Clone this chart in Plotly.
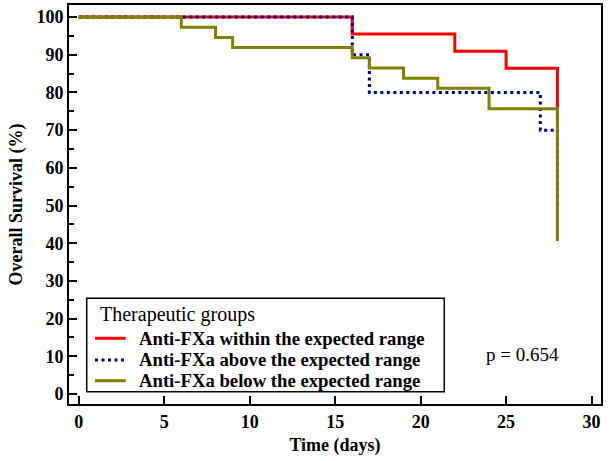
import plotly.graph_objects as go

# Kaplan-Meier step data (time in days, survival %)
within_t = [0, 16, 22, 25, 28]
within_s = [100, 95.5, 90.9, 86.4, 72.7]

above_t = [0, 16, 17, 27, 28]
above_s = [100, 90.0, 80.0, 70.0, 50.0]

below_t = [0, 6, 8, 9, 16, 17, 19, 21, 24, 28]
below_s = [100, 97.3, 94.6, 91.9, 89.2, 86.5, 83.8, 81.1, 75.7, 40.6]

x_ticks = [0, 5, 10, 15, 20, 25, 30]
y_ticks = [0, 10, 20, 30, 40, 50, 60, 70, 80, 90, 100]

series_names = ["Anti-FXa within the expected range",
                "Anti-FXa above the expected range",
                "Anti-FXa below the expected range"]
series_colors = ["#ff0000", "#00008b", "#808000"]
series_dash = ["solid", "3px,3.5px", "solid"]
legend_title = "Therapeutic groups"
p_text = "p = 0.654"

FONT = "Liberation Serif, Times New Roman, serif"

fig = go.Figure()
for t, s, name, col, dash in zip([within_t, above_t, below_t],
                                 [within_s, above_s, below_s],
                                 series_names, series_colors, series_dash):
    fig.add_trace(go.Scatter(x=t, y=s, mode="lines", line_shape="hv",
                             line=dict(color=col, width=3, dash=dash),
                             name=name, showlegend=False))

# custom legend box (paper coordinates)
fig.add_shape(type="rect", xref="paper", yref="paper",
              x0=0.0333, x1=0.7054, y0=0.0308, y1=0.2649,
              line=dict(color="black", width=1.5), fillcolor="white", layer="above")
fig.add_annotation(xref="paper", yref="paper", x=0.054, y=0.2231,
                   xanchor="left", yanchor="middle", showarrow=False,
                   text=legend_title, font=dict(family=FONT, size=20, color="black"))
entry_y = [0.1647, 0.1103, 0.0584]
for ey, name, col, dash in zip(entry_y, series_names, series_colors, series_dash):
    fig.add_shape(type="line", xref="paper", yref="paper",
                  x0=0.0489, x1=0.1066, y0=ey, y1=ey,
                  line=dict(color=col, width=3, dash=dash), layer="above")
    fig.add_annotation(xref="paper", yref="paper", x=0.1280, y=ey,
                       xanchor="left", yanchor="middle", showarrow=False,
                       text="<b>" + name + "</b>",
                       font=dict(family=FONT, size=18.7, color="black"))

fig.add_annotation(x=25.94, y=10.5, text=p_text, showarrow=False,
                   font=dict(family=FONT, size=19, color="black"))

fig.update_layout(
    width=609, height=461,
    margin=dict(l=69, r=8, t=5, b=57, autoexpand=False),
    paper_bgcolor="white", plot_bgcolor="white",
    font=dict(family=FONT, color="black"),
    showlegend=False,
    xaxis=dict(
        range=[-0.57, 30.55], tickvals=x_ticks, ticktext=[str(v) for v in x_ticks],
        showgrid=False, zeroline=False, automargin=False,
        showline=True, linecolor="black", linewidth=2, mirror=True,
        ticks="inside", ticklen=8, tickwidth=2, tickcolor="black",
        tickfont=dict(family=FONT, size=18, color="black", weight="bold"),
        title=dict(text="<b>Time (days)</b>", font=dict(family=FONT, size=18), standoff=8),
    ),
    yaxis=dict(
        range=[-2.65, 103.2], tickvals=y_ticks, ticktext=[str(v) for v in y_ticks],
        showgrid=False, zeroline=False, automargin=False,
        showline=True, linecolor="black", linewidth=2, mirror=True,
        ticks="inside", ticklen=8, tickwidth=2, tickcolor="black",
        minor=dict(tickvals=[5, 15, 25, 35, 45, 55, 65, 75, 85, 95], ticks="inside",
                   ticklen=5, tickwidth=1.5, tickcolor="black"),
        tickfont=dict(family=FONT, size=18, color="black", weight="bold"),
        title=dict(text="<b>Overall Survival (%)</b>", font=dict(family=FONT, size=18), standoff=9),
    ),
)

fig.write_html("out.html", config={"displayModeBar": False},
               post_script="document.body.style.margin='0';")
